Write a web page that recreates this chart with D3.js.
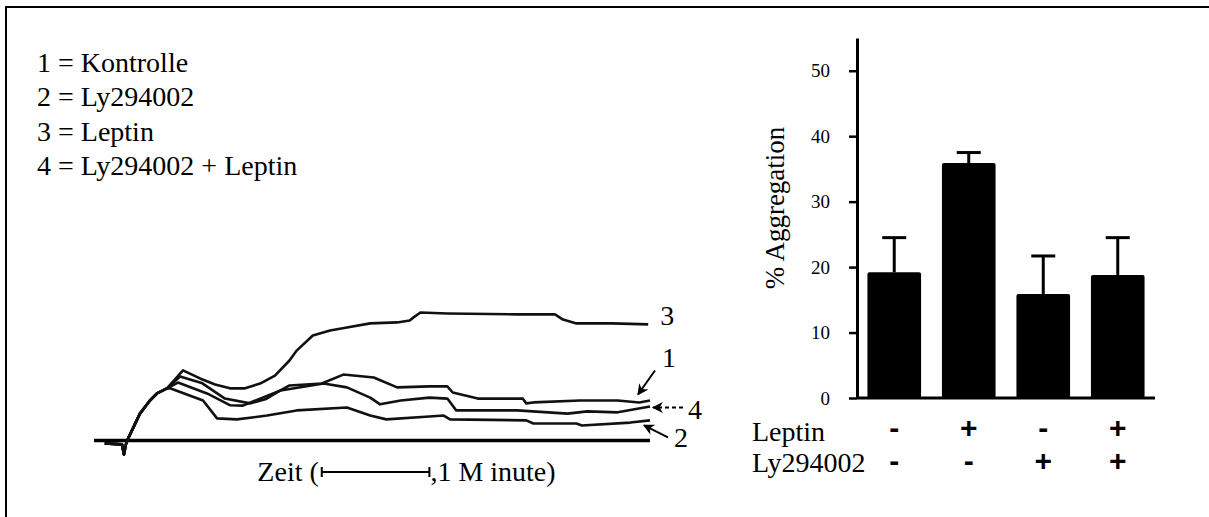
<!DOCTYPE html>
<html>
<head>
<meta charset="utf-8">
<script src="https://cdn.jsdelivr.net/npm/d3@7"></script>
<style>
  body { margin: 0; background: #fff; }
  svg { display: block; }
</style>
</head>
<body>
<svg width="1209" height="517"></svg>
<script>
// legend of the aggregation traces
var legendLines = ["1 = Kontrolle", "2 = Ly294002", "3 = Leptin", "4 = Ly294002 + Leptin"];

// traces: [time in s, aggregation in %]
var traceStart = [[6, -0.9], [15.6, -1.2], [16.7, -4.4], [17.8, -1.2], [19, 0.6], [25.6, 8.4],
                  [31.2, 12.5], [35.1, 14.7], [40.7, 16.3]];
var trace1 = [[48, 20.0], [60, 18.0], [73, 13.1], [87, 11.6], [96, 13.0], [103.7, 15.6], [109, 17.2],
              [127, 17.8], [139, 20.6], [156, 19.7], [169, 16.6], [187, 16.9], [197, 16.9], [200, 15.0],
              [214, 13.1], [239, 13.1], [241, 11.6], [245, 11.9], [271, 12.5], [292, 12.5], [304, 11.9], [310, 12.5]];
var trace2 = [[42.4, 16.3], [60.8, 12.5], [68.6, 6.9], [79.7, 6.6], [96.5, 7.8], [113, 9.4], [141, 10.3],
              [154, 7.8], [163, 6.6], [187, 7.5], [195, 7.8], [198.5, 6.6], [241, 6.3], [245, 5.3],
              [269, 5.3], [272, 4.7], [299, 5.6], [310, 6.3]];
var trace3 = [[49.6, 21.9], [59.1, 19.4], [67.5, 17.5], [75.8, 16.3], [84.2, 16.3], [92.6, 17.8],
              [100.9, 20.3], [109, 25.0], [113, 28.1], [122, 32.8], [131.6, 34.4], [141, 35.3], [154, 36.6],
              [169, 36.9], [176, 37.5], [178, 38.4], [182, 40.0], [197, 39.7], [236, 39.4], [257, 39.4],
              [261.5, 37.8], [269, 36.6], [289, 36.6], [309, 36.3]];
var trace4 = [[46.8, 18.1], [63, 14.7], [76, 11.0], [83, 10.9], [92.6, 13.1], [104, 15.6], [128, 17.8],
              [141, 16.6], [154, 13.4], [159.5, 11.3], [171, 12.5], [187, 13.4], [197, 13.1], [202, 9.4],
              [236, 9.4], [264, 8.4], [275, 9.1], [292, 8.8], [310, 10.6]];
var traceEnd = 310;
var scaleBarFrom = 127, scaleBarSeconds = 60;

// bar chart
var groups = ["Kontrolle", "Leptin", "Ly294002", "Ly294002 + Leptin"];
var meanValues = [19.2, 35.9, 15.9, 18.8];
var semValues = [5.3, 1.6, 5.8, 5.7];
var leptinSigns = ["-", "+", "-", "+"];
var lySigns = ["-", "-", "+", "+"];
var yTicks = [0, 10, 20, 30, 40, 50];

var SERIF = '"Liberation Serif", "Times New Roman", Times, serif';
var SANS = '"Liberation Sans", Arial, Helvetica, sans-serif';

var svg = d3.select("svg");

function serifText(sel, size){
  return sel.style("font-family", SERIF).style("font-size", size + "px").attr("fill", "#000");
}

// frame
svg.append("rect").attr("x", 6).attr("y", 7).attr("width", 1300).attr("height", 600)
  .attr("fill", "none").attr("stroke", "#000").attr("stroke-width", 2);

// legend
serifText(svg.selectAll(".legend").data(legendLines).enter().append("text")
  .attr("class", "legend")
  .attr("x", 37)
  .attr("y", function(d, i){ return 72 + i * 34.3; })
  .text(function(d){ return d; }), 28);

// ---- traces ----
var x = d3.scaleLinear().domain([0, traceEnd]).range([94, 650]);
var y = d3.scaleLinear().domain([0, 40]).range([440.5, 312.5]);

svg.append("line").attr("x1", x(0)).attr("x2", x(traceEnd))
  .attr("y1", y(0)).attr("y2", y(0))
  .attr("stroke", "#000").attr("stroke-width", 3.5);

var line = d3.line().x(function(d){ return x(d[0]); }).y(function(d){ return y(d[1]); });
var traces = [trace1, trace2, trace3, trace4].map(function(t){ return traceStart.concat(t); });

svg.selectAll(".trace").data(traces).enter().append("path")
  .attr("class", "trace")
  .attr("d", line)
  .attr("fill", "none").attr("stroke", "#111").attr("stroke-width", 2.6)
  .attr("stroke-linejoin", "round");

// arrow marker
svg.append("defs").append("marker")
  .attr("id", "head").attr("viewBox", "0 0 10 10")
  .attr("refX", 9).attr("refY", 5)
  .attr("markerWidth", 12).attr("markerHeight", 11)
  .attr("markerUnits", "userSpaceOnUse")
  .attr("orient", "auto")
  .append("path").attr("d", "M0,0 L10,5 L0,10 L3,5 z").attr("fill", "#000");

function endPoint(t){ var p = t[t.length - 1]; return [x(p[0]), y(p[1])]; }

var e1 = endPoint(trace1), e2 = endPoint(trace2), e3 = endPoint(trace3), e4 = endPoint(trace4);

var traceLabels = [
  {txt: "3", lx: e3[0] + 12, ly: e3[1] + 1},
  {txt: "1", lx: e1[0] + 12, ly: e1[1] - 34, a: [e1[0] + 5, e1[1] - 30, e1[0] - 12, e1[1] - 6]},
  {txt: "4", lx: e4[0] + 38, ly: e4[1] + 12, a: [e4[0] + 33, e4[1] + 1, e4[0] + 3, e4[1] + 1], dash: "4,3"},
  {txt: "2", lx: e2[0] + 24, ly: e2[1] + 27, a: [e2[0] + 18, e2[1] + 17, e2[0] - 6, e2[1] + 5]}
];

serifText(svg.selectAll(".tlabel").data(traceLabels).enter().append("text")
  .attr("class", "tlabel")
  .attr("x", function(d){ return d.lx; }).attr("y", function(d){ return d.ly; })
  .text(function(d){ return d.txt; }), 28);

svg.selectAll(".arrow").data(traceLabels.filter(function(d){ return d.a; })).enter().append("line")
  .attr("class", "arrow")
  .attr("x1", function(d){ return d.a[0]; }).attr("y1", function(d){ return d.a[1]; })
  .attr("x2", function(d){ return d.a[2]; }).attr("y2", function(d){ return d.a[3]; })
  .attr("stroke", "#000").attr("stroke-width", 2)
  .attr("stroke-dasharray", function(d){ return d.dash || null; })
  .attr("marker-end", "url(#head)");

// time scale bar
var sb = svg.append("g");
var sbY = 472;
sb.append("line").attr("x1", x(scaleBarFrom)).attr("x2", x(scaleBarFrom + scaleBarSeconds))
  .attr("y1", sbY).attr("y2", sbY).attr("stroke", "#000").attr("stroke-width", 2);
[scaleBarFrom, scaleBarFrom + scaleBarSeconds].forEach(function(t){
  sb.append("line").attr("x1", x(t)).attr("x2", x(t)).attr("y1", sbY - 5).attr("y2", sbY + 5)
    .attr("stroke", "#000").attr("stroke-width", 2);
});
serifText(sb.append("text").attr("x", x(scaleBarFrom) - 3).attr("y", 481)
  .attr("text-anchor", "end").text("Zeit ("), 28);
serifText(sb.append("text").attr("x", x(scaleBarFrom + scaleBarSeconds) + 1).attr("y", 481)
  .text(",1 M inute)"), 28);

// ---- bar chart ----
var xb = d3.scaleBand().domain(groups).range([857, 1155]).paddingInner(0.28).paddingOuter(0.14);
var yb = d3.scaleLinear().domain([0, 55]).range([398, 38]);

var axis = svg.append("g").attr("transform", "translate(857,0)")
  .call(d3.axisLeft(yb).tickValues(yTicks).tickSize(8).tickSizeOuter(0).tickPadding(19));
axis.select(".domain").attr("stroke-width", 3);
axis.selectAll(".tick line").attr("stroke-width", 2.5);
serifText(axis.selectAll(".tick text"), 19);

svg.append("line").attr("x1", 857).attr("x2", 1155).attr("y1", yb(0)).attr("y2", yb(0))
  .attr("stroke", "#000").attr("stroke-width", 3);

svg.selectAll(".bar").data(groups).enter().append("rect")
  .attr("class", "bar")
  .attr("x", function(d){ return xb(d); })
  .attr("width", xb.bandwidth())
  .attr("y", function(d, i){ return yb(meanValues[i]); })
  .attr("height", function(d, i){ return yb(0) - yb(meanValues[i]); })
  .attr("rx", 2)
  .attr("fill", "#000");

var err = svg.selectAll(".err").data(groups).enter().append("g").attr("class", "err");
err.append("line")
  .attr("x1", function(d){ return xb(d) + xb.bandwidth() / 2; })
  .attr("x2", function(d){ return xb(d) + xb.bandwidth() / 2; })
  .attr("y1", function(d, i){ return yb(meanValues[i]); })
  .attr("y2", function(d, i){ return yb(meanValues[i] + semValues[i]); })
  .attr("stroke", "#000").attr("stroke-width", 3);
err.append("line")
  .attr("x1", function(d){ return xb(d) + xb.bandwidth() / 2 - 12; })
  .attr("x2", function(d){ return xb(d) + xb.bandwidth() / 2 + 12; })
  .attr("y1", function(d, i){ return yb(meanValues[i] + semValues[i]); })
  .attr("y2", function(d, i){ return yb(meanValues[i] + semValues[i]); })
  .attr("stroke", "#000").attr("stroke-width", 3);

serifText(svg.append("text")
  .attr("transform", "translate(784,208) rotate(-90)")
  .attr("text-anchor", "middle").text("% Aggregation"), 27);

serifText(svg.append("text").attr("x", 752).attr("y", 441).text("Leptin"), 28);
serifText(svg.append("text").attr("x", 752).attr("y", 472).text("Ly294002"), 28);

[[leptinSigns, 438], [lySigns, 471]].forEach(function(row){
  svg.selectAll(null).data(row[0]).enter().append("text")
    .attr("x", function(d, i){ return xb(groups[i]) + xb.bandwidth() / 2; })
    .attr("y", row[1])
    .attr("text-anchor", "middle")
    .style("font-family", SANS).style("font-weight", "bold").style("font-size", "30px")
    .attr("fill", "#000")
    .text(function(d){ return d; });
});
</script>
</body>
</html>
